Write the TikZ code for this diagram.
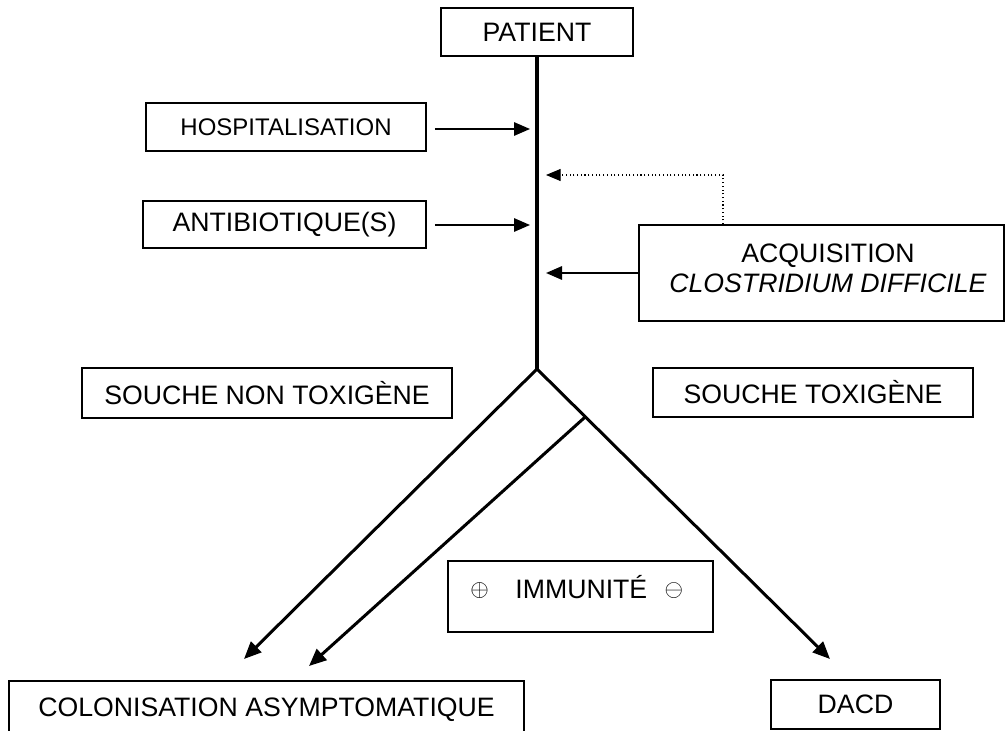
\documentclass[tikz,border=0pt]{standalone}
\usepackage{fontspec}
\setmainfont{Liberation Sans}
\usetikzlibrary{arrows.meta,calc}
\newcommand{\bigsym}[1]{\raisebox{1.5pt}{\scalebox{0.86}{$#1$}}}
\begin{document}
\begin{tikzpicture}[x=0.75pt,y=-0.75pt,
  box/.style={draw,line width=1.2pt,inner sep=0pt,font=\fontsize{20}{23}\selectfont},
  txt/.style={inner sep=0pt,font=\fontsize{20}{22.5}\selectfont},
  trunk/.style={line width=2.5pt},
  branch/.style={line width=2.25pt,-{Triangle[length=13pt,width=11pt]}},
  harrow/.style={line width=1.5pt,-{Triangle[length=12pt,width=10pt]}},
  dotarrow/.style={line width=0.8pt,dotted,-{Triangle[length=11pt,width=9pt]}}]
\useasboundingbox (0,0) rectangle (1006,731);
% boxes
\node[box,minimum width=144pt,minimum height=36pt] (patient) at (537,32) {PATIENT};
\node[box,minimum width=210pt,minimum height=36pt,font=\fontsize{18}{20}\selectfont] (hosp) at (286,127) {HOSPITALISATION};
\node[box,minimum width=212.25pt,minimum height=35.25pt] (anti) at (284.5,224.5) {ANTIBIOTIQUE(S)};
\node[box,minimum width=273.75pt,minimum height=72pt] (acq) at (821.5,273) {};
\node[txt,align=center] (acqtxt) at (828,268) {ACQUISITION\\\textit{CLOSTRIDIUM DIFFICILE}};
\node[box,minimum width=277.5pt,minimum height=37.5pt] (nontox) at (267,393) {SOUCHE NON TOXIGÈNE};
\node[box,minimum width=240pt,minimum height=36.75pt] (tox) at (813,392.5) {SOUCHE TOXIGÈNE};
\node[box,minimum width=198.75pt,minimum height=53.25pt] (imm) at (580.5,596.5) {};
\node[txt,anchor=base west] (immtxt) at (470,598) {\bigsym{\oplus}\hspace{20pt}IMMUNITÉ\hspace{13pt}\bigsym{\ominus}};
\node[box,minimum width=386.25pt,minimum height=43.5pt] (colo) at (266.5,710) {COLONISATION ASYMPTOMATIQUE};
\node[box,minimum width=126.75pt,minimum height=36.75pt] (dacd) at (855.5,704.5) {DACD};
% coordinates
\coordinate (fork) at (537,369);
\coordinate (tipL) at (244,659);
\coordinate (tipM) at (309,666);
\coordinate (tipR) at (830,659);
\coordinate (inH) at (530,129);
\coordinate (inA) at (530,225);
\coordinate (inD) at (546,175);
\coordinate (inC) at (546,273);
\coordinate (bend) at (723,175);
% connectors
\draw[trunk] (patient.south -| fork) -- (fork);
\draw[branch] (fork) -- (tipL);
\draw[branch] (fork) -- (tipR);
\draw[branch] ($(fork)!0.165!(tipR)$) -- (tipM);
\draw[harrow] ([xshift=6pt]hosp.east |- inH) -- (inH);
\draw[harrow] ([xshift=6pt]anti.east |- inA) -- (inA);
\draw[harrow] (acq.west |- inC) -- (inC);
\draw[dotarrow] (acq.north -| bend) -- (bend) -- (inD);
\end{tikzpicture}
\end{document}
